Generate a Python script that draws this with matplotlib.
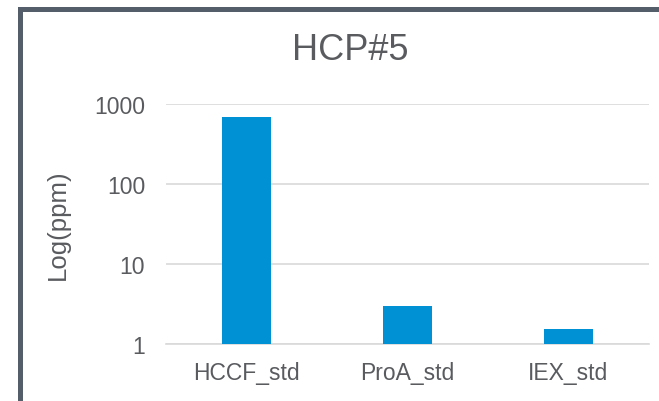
import matplotlib.pyplot as plt
from matplotlib.patches import Rectangle

categories = ['HCCF_std', 'ProA_std', 'IEX_std']
values = [690, 2.95, 1.52]
yticks = [1, 10, 100, 1000]

plt.rcParams['font.family'] = ['Liberation Sans', 'DejaVu Sans']
txt = '#595B5F'

fig = plt.figure(figsize=(6.59, 4.02), dpi=100)
ax = fig.add_axes([166 / 659, 1 - 345 / 402, 483 / 659, 240 / 402])

x = range(len(categories))
ax.bar(x, values, width=0.31, color='#0091D5', zorder=3)
ax.set_yscale('log')
ax.set_ylim(1, 1000)
ax.set_xlim(-0.5, 2.5)
ax.set_yticks(yticks)
ax.set_yticklabels([str(t) for t in yticks])
ax.minorticks_off()
ax.set_xticks(list(x))
ax.set_xticklabels(categories)
ax.tick_params(axis='both', length=0, labelsize=16.5, colors=txt)
ax.tick_params(axis='y', pad=15)
ax.tick_params(axis='x', pad=12)
ax.yaxis.grid(True, color='#D9D9D9', linewidth=1.2, zorder=0)
for s in ['top', 'right', 'left']:
    ax.spines[s].set_visible(False)
ax.spines['bottom'].set_color('#D9D9D9')
ax.spines['bottom'].set_linewidth(1.2)
ax.set_ylabel('Log(ppm)', fontsize=18.5, color=txt)
ax.yaxis.set_label_coords(-0.199, 0.5)

fig.text(350 / 659, 1 - 51 / 402, 'HCP#5', ha='center', va='center',
         fontsize=26, color=txt)

fig.add_artist(Rectangle((20 / 659, -0.1), 1.0, 1 - 9.5 / 402 + 0.1,
                         transform=fig.transFigure, fill=False,
                         edgecolor='#545E6A', linewidth=3.6))

fig.savefig('out.png', dpi=100)
